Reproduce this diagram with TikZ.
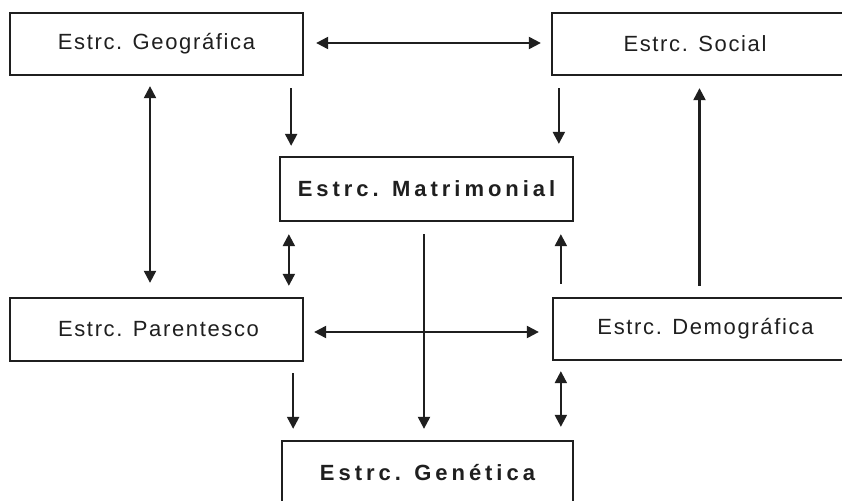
\documentclass[tikz,border=0pt]{standalone}
\usepackage{fontspec}
\setmainfont{Liberation Sans}
\newfontfamily\regfont[LetterSpace=7.5]{Liberation Sans}
\newfontfamily\boldfont[LetterSpace=18]{Liberation Sans Bold}
\usetikzlibrary{arrows.meta}
\colorlet{ink}{black!88}
\tikzset{
  box/.style={draw=ink, line width=2.3pt, rectangle, inner sep=0pt,
    minimum width=293pt, minimum height=62pt, text=ink},
  rtext/.style={font=\regfont\fontsize{22}{26}\selectfont},
  btext/.style={font=\boldfont\fontsize{22}{26}\selectfont},
  arr/.style={draw=ink, line width=2.2pt, -{Triangle[width=12pt,length=12pt]}},
  darr/.style={draw=ink, line width=2.2pt, {Triangle[width=12pt,length=12pt]}-{Triangle[width=12pt,length=12pt]}}
}
\begin{document}
\begin{tikzpicture}[x=1pt,y=-1pt]
\useasboundingbox (0,0) rectangle (842,500);
\clip (0,0) rectangle (842,500);
\fill[white] (0,0) rectangle (842,500);
\node[box,rtext] (geo) at (156.5,44) {Estrc. Geográfica};
\node[box,rtext,minimum width=294pt] (soc) at (699,44) {Estrc. Social\hspace*{8pt}};
\node[box,btext,minimum height=64pt] (mat) at (426.5,189) {Estrc. Matrimonial};
\node[box,rtext,minimum height=63pt] (par) at (156.5,329.5) {\hspace*{4pt}Estrc. Parentesco};
\node[box,rtext,minimum width=293pt] (dem) at (699.5,329) {\hspace*{12pt}Estrc. Demográfica};
\node[box,btext,minimum width=291pt,minimum height=64pt] (gen) at (427.5,473) {Estrc. Genética};
% Geo <-> Social
\draw[darr, shorten <=12pt, shorten >=10pt] ([yshift=1pt]geo.east) -- ([yshift=1pt]geo.east -| soc.west);
% Geo -> Mat, Soc -> Mat
\coordinate (g1) at ([xshift=-13pt]geo.south east);
\draw[arr, shorten <=12pt, shorten >=10pt] (g1) -- (g1 |- mat.north);
\coordinate (s1) at ([xshift=8pt]soc.south west);
\draw[arr, shorten <=12pt, shorten >=12pt] (s1) -- (s1 |- mat.north);
% Geo <-> Par
\coordinate (g2) at ([xshift=-6.5pt]geo.south);
\draw[darr, shorten <=10pt, shorten >=14pt] (g2) -- (g2 |- par.north);
% Dem -> Soc
\coordinate (d1) at (dem.north);
\draw[arr, shorten <=11pt, shorten >=12pt] (d1) -- (d1 |- soc.south);
% Mat <-> Par
\coordinate (m1) at ([xshift=10pt]mat.south west);
\draw[darr, shorten <=12pt, shorten >=11pt] (m1) -- (m1 |- par.north);
% Dem -> Mat
\coordinate (d2) at ([xshift=9pt]dem.north west);
\draw[arr, shorten <=13pt, shorten >=12pt] (d2) -- (d2 |- mat.south);
% Mat -> Gen
\coordinate (m2) at ([xshift=-2.5pt]mat.south);
\draw[arr, shorten <=12pt, shorten >=11pt] (m2) -- (m2 |- gen.north);
% Par <-> Dem
\coordinate (p1) at ([yshift=-2.5pt]par.east);
\draw[darr, shorten <=10pt, shorten >=13pt] (p1) -- (p1 -| dem.west);
% Par -> Gen
\coordinate (p2) at ([xshift=-11pt]par.south east);
\draw[arr, shorten <=11pt, shorten >=11pt] (p2) -- (p2 |- gen.north);
% Dem <-> Gen
\coordinate (d3) at ([xshift=9pt]dem.south west);
\draw[darr, shorten <=10pt, shorten >=13pt] (d3) -- (d3 |- gen.north);
\end{tikzpicture}
\end{document}
